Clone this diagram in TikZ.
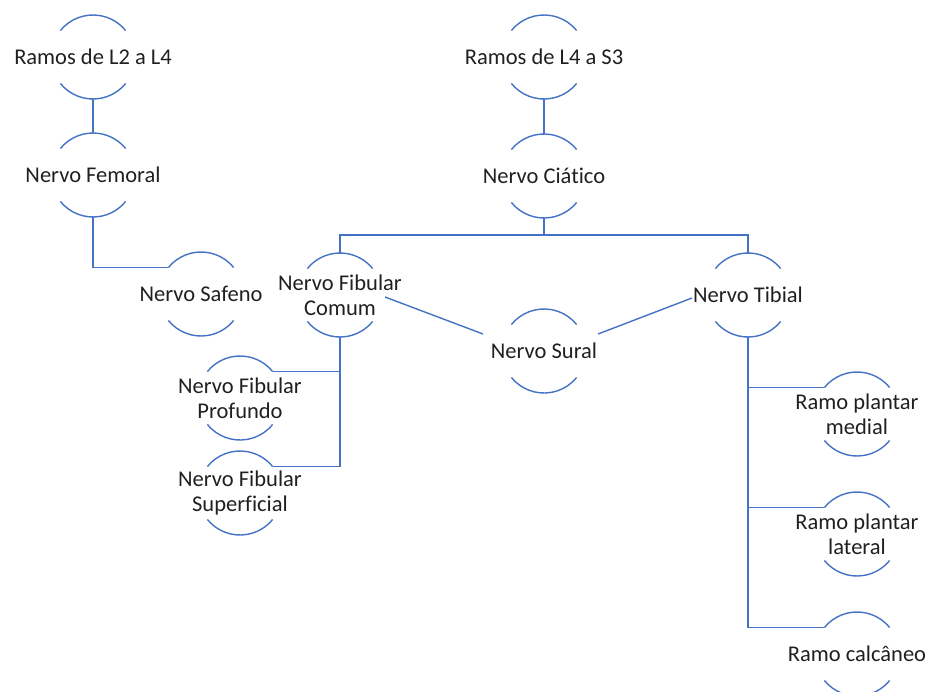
\documentclass[tikz,border=0pt]{standalone}
\usepackage{fontspec}
\setmainfont[Ligatures=NoCommon]{Carlito}
\definecolor{lineblue}{HTML}{4472C4}
\definecolor{txt}{HTML}{202020}
\newcommand\nervenode[4]{%
  \node[ring] (#1) at (#2,-#3) {};
  \draw[arcs] (#1.141) arc (141:39:42);
  \draw[arcs] (#1.219) arc (219:321:42);
  \node[lbl] (#1t) at (#1) {#4};}
\begin{document}
\begin{tikzpicture}[x=1pt,y=1pt,
  ring/.style={circle,minimum size=84pt,inner sep=0pt,outer sep=0pt,draw=none},
  lbl/.style={font=\fontsize{22.5}{25}\selectfont, text=txt, align=center, inner sep=0pt},
  link/.style={draw=lineblue, line width=1.4pt},
  arcs/.style={draw=lineblue, line width=1.4pt}]
\useasboundingbox (0,0) rectangle (929,-691);

\nervenode{r1}{93}{57}{Ramos de L2 a L4}
\nervenode{femoral}{93}{175}{Nervo Femoral}
\nervenode{r2}{544}{57}{Ramos de L4 a S3}
\nervenode{ciatico}{544}{176}{Nervo Ciático}
\nervenode{safeno}{201}{294}{Nervo Safeno}
\nervenode{fc}{340}{295}{Nervo Fibular\\Comum}
\nervenode{tibial}{748}{295}{Nervo Tibial}
\nervenode{sural}{544}{351}{Nervo Sural}
\nervenode{profundo}{240}{398}{Nervo Fibular\\Profundo}
\nervenode{superficial}{240}{493}{Nervo Fibular\\Superficial}
\nervenode{medial}{857}{414}{Ramo plantar\\medial}
\nervenode{lateral}{857}{534}{Ramo plantar\\lateral}
\nervenode{calcaneo}{857}{654}{Ramo calcâneo}

\draw[link] (r1.south) -- (femoral.north);
\draw[link] (femoral.south) |- (safeno.141);
\draw[link] (r2.south) -- (ciatico.north);
\draw[link] (ciatico.south) -- ++(0,-17) coordinate (hub);
\draw[link] (fc.north) |- (hub) -| (tibial.north);
\draw[link] (fc.south) |- (profundo.39);
\draw[link] (fc.south) |- (superficial.39);
\draw[link] (tibial.south) |- (medial.141);
\draw[link] (tibial.south) |- (lateral.141);
\draw[link] (tibial.south) |- (calcaneo.141);
\draw[link] ([shift={(45,-2)}]fc.center) -- ([shift={(-61,17)}]sural.center);
\draw[link] ([shift={(54,17)}]sural.center) -- ([shift={(-56,-3)}]tibial.center);
\end{tikzpicture}
\end{document}
